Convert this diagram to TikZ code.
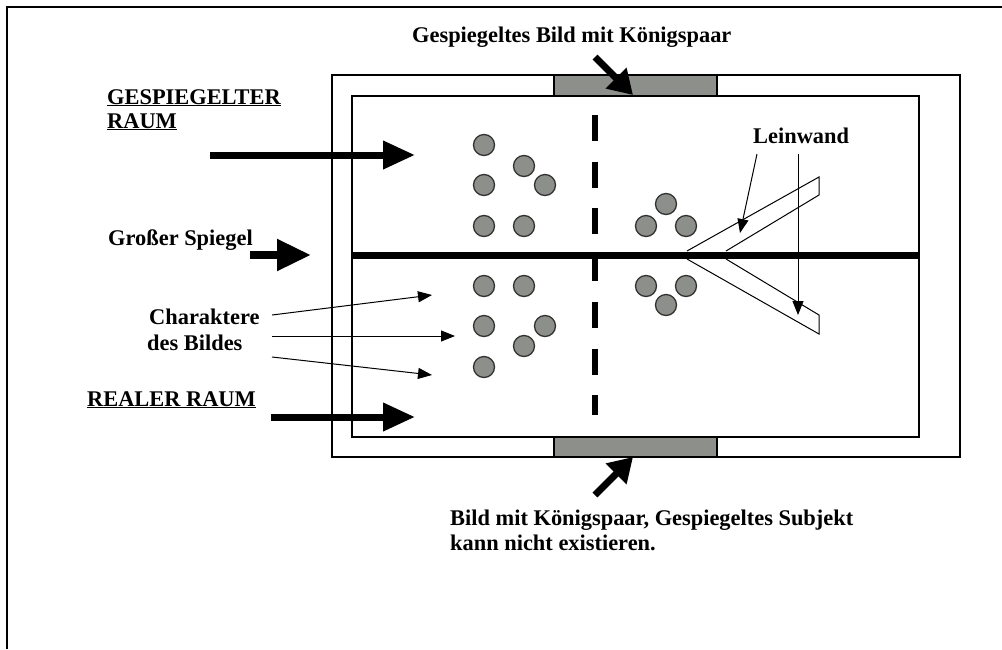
\documentclass[tikz,border=0pt]{standalone}
\usepackage{fontspec}
\setmainfont{Liberation Serif}
\usetikzlibrary{arrows.meta}
\definecolor{gfill}{RGB}{141,143,139}
\definecolor{gline}{RGB}{50,50,50}
\tikzset{
  lbl/.style={anchor=base west,inner sep=0pt,font=\bfseries\fontsize{22.4}{25}\selectfont},
  frameline/.style={line width=1.8pt},
  bigarrow/.style={line width=7pt,-{Triangle[length=32pt,width=27pt]}},
  diagarrow/.style={line width=7pt,-{Triangle[length=24pt,width=28pt]}},
  thinarrow/.style={line width=1pt,-{Triangle[length=14pt,width=11pt]}},
  person/.style={circle,draw=gline,line width=1.3pt,fill=gfill,minimum size=21pt,inner sep=0pt},
  screen/.style={line width=1pt},
  bar/.style={draw,line width=1.6pt,fill=gfill}
}
\begin{document}
\begin{tikzpicture}[x=1pt,y=-1pt]
\useasboundingbox (0,0) rectangle (1002,649);
% page frame (top and left edges)
\draw[line width=2pt] (7,649) -- (7,7) -- (1002,7);
% room rectangles
\draw[frameline] (332,75) rectangle (960,457);
\draw[frameline] (352,96) rectangle (919,437);
% gray picture bars
\draw[bar] (554,75) rectangle (717,96);
\draw[bar] (554,437) rectangle (717,457);
% dashed vertical line
\draw[line width=5.5pt,dash pattern=on 26pt off 20.7pt] (595,115) -- (595,415);
% big mirror
\draw[line width=7pt] (352,255) -- (919,255);
% characters
\foreach \n/\x/\y in {a/484/145,b/484/185,c/484/226,d/524/166,e/545/185,f/524/226,
  g/484/286,h/524/286,i/484/326,j/545/326,k/524/346,l/484/367,
  m/666/204,n/646/226,o/686/226,p/646/286,q/686/286,r/666/305}
  \node[person] (c\n) at (\x,\y) {};
% canvas (Leinwand)
\draw[screen] (687,251) -- (819,177) -- (819,195) -- (726,251);
\draw[screen] (687,259) -- (819,334) -- (819,315) -- (726,259);
% labels
\node[lbl] (tTop) at (412,42) {Gespiegeltes Bild mit Königspaar};
\node[lbl] (tGes1) at (107,104) {\underline{GESPIEGELTER}};
\node[lbl] (tGes2) at (107,128) {\underline{RAUM}};
\node[lbl] (tSpiegel) at (108,245) {Großer Spiegel};
\node[lbl] (tChar1) at (149,324) {Charaktere};
\node[lbl] (tChar2) at (147,350) {des Bildes};
\node[lbl] (tReal) at (87,406) {\underline{REALER RAUM}};
\node[lbl] (tLein) at (753,143) {Leinwand};
\node[lbl] (tBot1) at (450,525) {Bild mit Königspaar, Gespiegeltes Subjekt};
\node[lbl] (tBot2) at (450,550) {kann nicht existieren.};
% connector end points
\coordinate (gesA) at (210,155);   \coordinate (gesB) at (415,155);
\coordinate (spA) at (250,255);    \coordinate (spB) at (311,255);
\coordinate (reA) at (271,417);    \coordinate (reB) at (415,417);
\coordinate (topA) at (595,57);    \coordinate (topB) at (633,95);
\coordinate (botA) at (595,495);   \coordinate (botB) at (633,457);
\coordinate (ch1A) at (272,315);   \coordinate (ch1B) at (432,295);
\coordinate (ch2A) at (272,336);   \coordinate (ch2B) at (455,336);
\coordinate (ch3A) at (272,357);   \coordinate (ch3B) at (432,375);
\coordinate (le1A) at (757,154);   \coordinate (le1B) at (740,233);
\coordinate (le2A) at (798,154);   \coordinate (le2B) at (798,315);
% arrows
\draw[bigarrow] (gesA) -- (gesB);
\draw[line width=8pt,-{Triangle[length=34pt,width=30pt]}] (spA) -- (spB);
\draw[bigarrow] (reA) -- (reB);
\draw[diagarrow] (topA) -- (topB);
\draw[diagarrow] (botA) -- (botB);
\draw[thinarrow] (ch1A) -- (ch1B);
\draw[thinarrow] (ch2A) -- (ch2B);
\draw[thinarrow] (ch3A) -- (ch3B);
\draw[thinarrow] (le1A) -- (le1B);
\draw[thinarrow] (le2A) -- (le2B);
\end{tikzpicture}
\end{document}
